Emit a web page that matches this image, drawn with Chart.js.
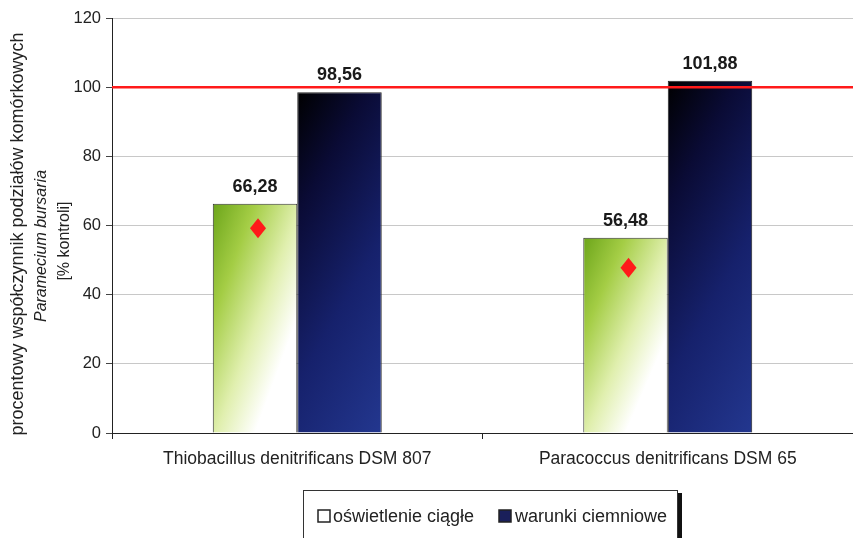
<!DOCTYPE html>
<html>
<head>
<meta charset="utf-8">
<script src="https://cdn.jsdelivr.net/npm/chart.js@4/dist/chart.umd.min.js"></script>
<style>
  html, body { margin: 0; padding: 0; background: #fff; }
  #wrap { width: 853px; height: 538px; position: relative; }
</style>
</head>
<body>
<div id="wrap"><canvas id="wykres"></canvas></div>
<script>
// dane
var kategorie = ["Thiobacillus denitrificans DSM 807", "Paracoccus denitrificans DSM 65"];
var oswietlenie = [66.28, 56.48];
var ciemnosc = [98.56, 101.88];
var punkty = [59.2, 47.8];
var kontrola = 100;
var osY = [0, 20, 40, 60, 80, 100, 120];
var serie = ["oświetlenie ciągłe", "warunki ciemniowe"];

var czcionka = '"Liberation Sans", Arial, sans-serif';
var szerokoscGrupy = 0.456;

// gradient liczony w ukladzie slupka: t = wu*u + wv*v (u, v od 0 do 1)
function gradientSlupka(ctx, dsIndex, kolory, wu, wv) {
  var chart = ctx.chart;
  var sx = chart.scales.x, sy = chart.scales.y;
  if (!sx || !sy || !chart.chartArea) return kolory[kolory.length - 1][1];
  var i = ctx.dataIndex;
  var v = chart.data.datasets[dsIndex].data[i];
  var cx = sx.getPixelForValue(i);
  var bw = (sx.width / kategorie.length) * szerokoscGrupy / 2;
  var x0 = dsIndex === 0 ? cx - bw : cx;
  var top = sy.getPixelForValue(v);
  var h = sy.getPixelForValue(0) - top;
  var gx = wu / bw, gy = wv / h;
  var n = gx * gx + gy * gy;
  var g = chart.ctx.createLinearGradient(x0, top, x0 + gx / n, top + gy / n);
  kolory.forEach(function (k) { g.addColorStop(k[0], k[1]); });
  return g;
}

var zielony = [[0, "#6ca51a"], [0.25, "#a4cd45"], [0.52, "#e0efae"], [0.75, "#ffffff"], [1, "#ffffff"]];
var granat = [[0, "#000000"], [0.25, "#0a0b35"], [0.6, "#16216c"], [1, "#23378f"]];

// linia kontroli, wartosci, romby, legenda, opis osi
var dodatki = {
  id: 'dodatki',
  afterDatasetsDraw: function (chart) {
    var c = chart.ctx, a = chart.chartArea, sy = chart.scales.y;
    c.save();
    // linia 100%
    var yk = sy.getPixelForValue(kontrola);
    c.strokeStyle = "#ff1a1a";
    c.lineWidth = 2.5;
    c.beginPath();
    c.moveTo(a.left, yk);
    c.lineTo(a.right, yk);
    c.stroke();

    // wartosci nad slupkami
    c.fillStyle = "#1a1a1a";
    c.font = "bold 18px " + czcionka;
    c.textAlign = "center";
    c.textBaseline = "bottom";
    [0, 1].forEach(function (d) {
      chart.getDatasetMeta(d).data.forEach(function (bar, i) {
        var v = chart.data.datasets[d].data[i];
        c.fillText(v.toFixed(2).replace(".", ","), bar.x, bar.y - 8);
      });
    });

    // romby
    c.fillStyle = "#ff1a1a";
    chart.getDatasetMeta(0).data.forEach(function (bar, i) {
      var px = bar.x + 3, py = sy.getPixelForValue(punkty[i]);
      c.beginPath();
      c.moveTo(px, py - 10);
      c.lineTo(px + 8, py);
      c.lineTo(px, py + 10);
      c.lineTo(px - 8, py);
      c.closePath();
      c.fill();
    });
    c.restore();
  },
  afterDraw: function (chart) {
    var c = chart.ctx;
    c.save();
    // opis osi Y
    var linie = [
      { t: "procentowy współczynnik podziałów komórkowych", x: 18, y: 234, f: "18px " + czcionka },
      { t: "Paramecium bursaria", x: 42, y: 246, f: "italic 16px " + czcionka },
      { t: "[% kontroli]", x: 65, y: 241, f: "16px " + czcionka }
    ];
    c.fillStyle = "#222";
    c.textAlign = "center";
    c.textBaseline = "middle";
    linie.forEach(function (l) {
      c.save();
      c.translate(l.x, l.y);
      c.rotate(-Math.PI / 2);
      c.font = l.f;
      c.fillText(l.t, 0, 0);
      c.restore();
    });

    // legenda
    c.fillStyle = "#111";
    c.fillRect(677, 493, 5, 45);
    c.fillStyle = "#fff";
    c.fillRect(303, 490, 374, 50);
    c.strokeStyle = "#333";
    c.lineWidth = 1;
    c.strokeRect(303.5, 490.5, 374, 50);

    c.strokeStyle = "#222";
    c.lineWidth = 1.5;
    c.fillStyle = "#fff";
    c.fillRect(318, 510, 12, 12);
    c.strokeRect(318, 510, 12, 12);
    c.fillStyle = "#1a1f5a";
    c.fillRect(499, 510, 12, 12);
    c.strokeRect(499, 510, 12, 12);

    c.fillStyle = "#222";
    c.font = "18px " + czcionka;
    c.textAlign = "left";
    c.fillText(serie[0], 333, 517);
    c.fillText(serie[1], 515, 517);
    c.restore();
  }
};

new Chart(document.getElementById("wykres"), {
  type: 'bar',
  data: {
    labels: kategorie,
    datasets: [
      {
        label: serie[0],
        data: oswietlenie,
        backgroundColor: function (ctx) { return gradientSlupka(ctx, 0, zielony, 0.5, 0.5); },
        borderColor: "#333",
        borderWidth: 1,
        categoryPercentage: szerokoscGrupy,
        barPercentage: 1
      },
      {
        label: serie[1],
        data: ciemnosc,
        backgroundColor: function (ctx) { return gradientSlupka(ctx, 1, granat, 0.3, 0.7); },
        borderColor: "#222",
        borderWidth: 1,
        categoryPercentage: szerokoscGrupy,
        barPercentage: 1
      }
    ]
  },
  options: {
    responsive: true,
    maintainAspectRatio: false,
    animation: false,
    layout: { padding: { left: 0, right: 0, top: 18, bottom: 0 } },
    plugins: {
      legend: { display: false },
      tooltip: { enabled: false }
    },
    scales: {
      x: {
        grid: {
          offset: true,
          drawOnChartArea: false,
          drawTicks: true,
          tickLength: 6,
          tickColor: "#222"
        },
        border: { color: "#222", width: 1 },
        ticks: {
          color: "#222",
          font: { family: czcionka, size: 17.5 },
          padding: 10,
          maxRotation: 0
        },
        afterFit: function (scale) { scale.height = 105; }
      },
      y: {
        min: 0,
        max: 120,
        afterBuildTicks: function (scale) {
          scale.ticks = osY.map(function (v) { return { value: v }; });
        },
        grid: {
          color: "#c8c8c8",
          tickColor: "#444",
          tickLength: 6,
          lineWidth: 1
        },
        border: { color: "#222", width: 1 },
        ticks: {
          color: "#222",
          font: { family: czcionka, size: 16.5 },
          padding: 5
        },
        afterFit: function (scale) { scale.width = 112; }
      }
    }
  },
  plugins: [dodatki]
});
</script>
</body>
</html>
